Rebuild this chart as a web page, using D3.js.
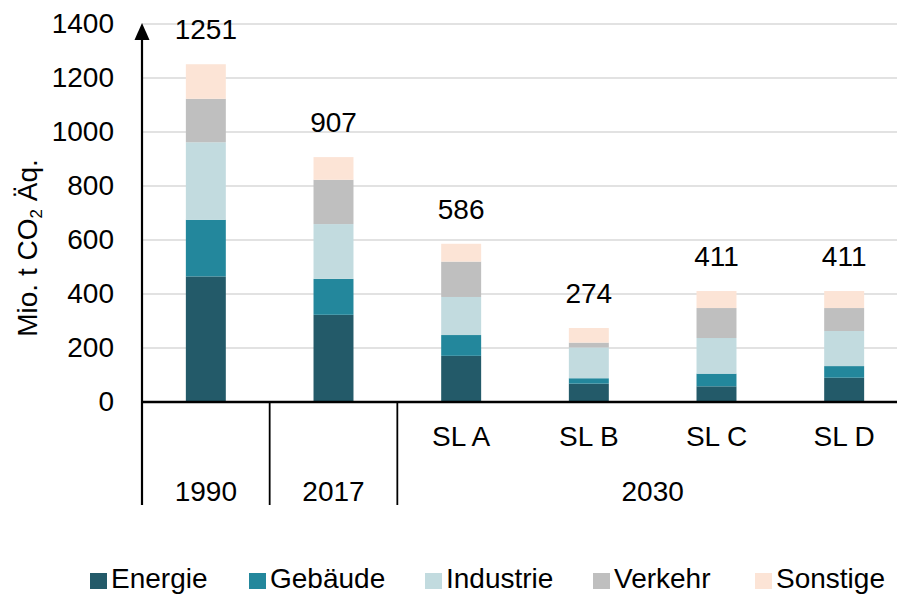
<!DOCTYPE html>
<html>
  <body>
    <script src="https://cdn.jsdelivr.net/npm/d3@7/dist/d3.min.js"></script>
    <style>
      body{ margin: 0; background: #fff;}
      svg{ display: block; font-family: "Liberation Sans", Arial, sans-serif;}
      .grid line{ stroke: #d9d9d9; stroke-width: 1.5;}
    </style>
    <script>
var categories = ['1990', '2017', 'SL A', 'SL B', 'SL C', 'SL D']
  , subLabels = ['', '', 'SL A', 'SL B', 'SL C', 'SL D']
  , groupLabels = ['1990', '2017', '2030']
  , groupSpans = [1, 1, 4]
  , seriesNames = ['Energie', 'Gebäude', 'Industrie', 'Verkehr', 'Sonstige']
  , energie = [465, 323, 171, 68, 58, 90]
  , gebaeude = [210, 133, 77, 20, 47, 43]
  , industrie = [287, 203, 141, 114, 132, 130]
  , verkehr = [161, 164, 131, 18, 111, 85]
  , sonstige = [128, 84, 66, 54, 63, 63]
  , totals = [1251, 907, 586, 274, 411, 411]
  , yTicks = [0, 200, 400, 600, 800, 1000, 1200, 1400]
  , colors = ['#235a69', '#23879c', '#c2dbdf', '#bfbfbf', '#fce4d6']

var W = 897, H = 595
  , pLeft = 142, pRight = 908, pBottom = 402, pTop = 24
  , fs = 28

var svg = d3.select('body').append('svg')
  .attr('width', W).attr('height', H)

var x = d3.scaleBand().domain(categories).range([pLeft, pRight])
var y = d3.scaleLinear().domain([0, 1400]).range([pBottom, pTop])
var barW = x.bandwidth() * 0.313

// gridlines
svg.append('g').attr('class', 'grid')
  .selectAll('line').data(yTicks.slice(1)).enter().append('line')
  .attr('x1', pLeft).attr('x2', W)
  .attr('y1', function(d){ return y(d) }).attr('y2', function(d){ return y(d) })

// stacked bars
var rows = categories.map(function(c, i){
  return { cat: c, Energie: energie[i], 'Gebäude': gebaeude[i], Industrie: industrie[i]
    , Verkehr: verkehr[i], Sonstige: sonstige[i] }
})
var stack = d3.stack().keys(seriesNames)(rows)

svg.append('g').selectAll('g').data(stack).enter().append('g')
  .attr('fill', function(d, i){ return colors[i] })
  .selectAll('rect').data(function(d){ return d }).enter().append('rect')
  .attr('x', function(d){ return x(d.data.cat) + (x.bandwidth() - barW) / 2 })
  .attr('width', barW)
  .attr('y', function(d){ return y(d[1]) })
  .attr('height', function(d){ return y(d[0]) - y(d[1]) })

// total labels
svg.append('g').selectAll('text').data(totals).enter().append('text')
  .attr('x', function(d, i){ return x(categories[i]) + x.bandwidth() / 2 })
  .attr('y', function(d){ return y(d) - 25 })
  .attr('text-anchor', 'middle').attr('font-size', fs).attr('fill', '#000')
  .text(function(d){ return d })

// y axis
var yAxis = svg.append('g').attr('transform', 'translate(' + pLeft + ',0)')
  .call(d3.axisLeft(y).tickValues(yTicks).tickFormat(d3.format('d'))
    .tickSize(0).tickPadding(28))
yAxis.select('.domain').remove()
yAxis.selectAll('text').attr('font-size', fs).attr('fill', '#000')
  .attr('font-family', '"Liberation Sans", Arial, sans-serif')

svg.append('line').attr('x1', pLeft).attr('x2', pLeft)
  .attr('y1', 505).attr('y2', pTop + 14)
  .attr('stroke', '#000').attr('stroke-width', 2.2)
svg.append('path')
  .attr('d', 'M' + pLeft + ',' + (pTop - 1) + 'L' + (pLeft - 7.5) + ',' + (pTop + 16)
    + 'L' + (pLeft + 7.5) + ',' + (pTop + 16) + 'Z')
  .attr('fill', '#000')

// x axis line
svg.append('line').attr('x1', pLeft).attr('x2', W)
  .attr('y1', pBottom).attr('y2', pBottom)
  .attr('stroke', '#000').attr('stroke-width', 2.5)

// sub labels
svg.append('g').selectAll('text').data(subLabels).enter().append('text')
  .attr('x', function(d, i){ return x(categories[i]) + x.bandwidth() / 2 })
  .attr('y', 446).attr('text-anchor', 'middle').attr('font-size', fs)
  .text(function(d){ return d })

// group labels and dividers
var start = 0
groupLabels.forEach(function(g, i){
  var x0 = x(categories[start])
    , x1 = x(categories[start + groupSpans[i] - 1]) + x.bandwidth()
  svg.append('text').attr('x', (x0 + x1) / 2).attr('y', 501)
    .attr('text-anchor', 'middle').attr('font-size', fs).text(g)
  if(i > 0) svg.append('line').attr('x1', x0).attr('x2', x0)
    .attr('y1', pBottom).attr('y2', 505).attr('stroke', '#000').attr('stroke-width', 1.8)
  start += groupSpans[i]
})

// y title
var title = svg.append('text').attr('transform', 'translate(37,248) rotate(-90)')
  .attr('text-anchor', 'middle').attr('font-size', fs)
title.append('tspan').text('Mio. t CO')
title.append('tspan').attr('font-size', 17).attr('dy', 5).text('2')
title.append('tspan').attr('dy', -5).text(' Äq.')

// legend
var legendX = [90, 249, 425, 593, 755]
var lg = svg.append('g').selectAll('g').data(seriesNames).enter().append('g')
  .attr('transform', function(d, i){ return 'translate(' + legendX[i] + ',573)' })
lg.append('rect').attr('width', 17).attr('height', 16)
  .attr('fill', function(d, i){ return colors[i] })
lg.append('text').attr('x', 21).attr('y', 15).attr('font-size', fs)
  .text(function(d){ return d })
    </script>
  </body>
</html>
